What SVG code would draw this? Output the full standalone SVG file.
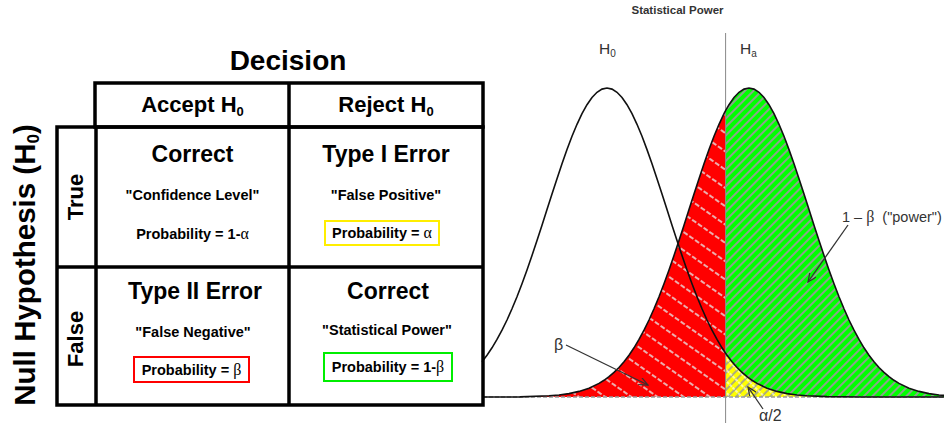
<svg xmlns="http://www.w3.org/2000/svg" width="944" height="423" viewBox="0 0 944 423">
<style>
.b{font-family:"Liberation Sans",Arial,sans-serif;font-weight:bold;fill:#000}
.t1{font-size:28px}
.hd{font-size:22px}
.big{font-size:23px}
.sm{font-size:14.5px}
.g{font-family:"Liberation Serif","Times New Roman",serif;font-weight:normal}
.ln{fill:none;stroke:#000;stroke-width:3.5}
.pl{font-family:"Liberation Sans",Arial,sans-serif;fill:#333}
.cur{fill:none;stroke:#111;stroke-width:1.6}
.arr{fill:none;stroke:#333;stroke-width:1.3}
</style>
<defs>
<pattern id="redh" width="15" height="14" patternUnits="userSpaceOnUse" patternTransform="rotate(-55)">
<rect width="15" height="14" fill="#ff0000"/>
<line x1="7" y1="0" x2="7" y2="14" stroke="#e6e6e6" stroke-width="1.5" stroke-dasharray="5 2"/>
</pattern>
<pattern id="grh" width="6" height="6" patternUnits="userSpaceOnUse" patternTransform="rotate(45)">
<rect width="6" height="6" fill="#00ff00"/>
<line x1="3" y1="0" x2="3" y2="6" stroke="#9a9a9a" stroke-width="1.8"/>
</pattern>
<pattern id="yeh" width="6" height="6" patternUnits="userSpaceOnUse" patternTransform="rotate(45)">
<rect width="6" height="6" fill="#ffff00"/>
<line x1="3" y1="0" x2="3" y2="6" stroke="#9a9a9a" stroke-width="1.6"/>
</pattern>
<pattern id="yew" width="8" height="8" patternUnits="userSpaceOnUse" patternTransform="rotate(-45)">
<line x1="4" y1="0" x2="4" y2="8" stroke="#ffffff" stroke-width="1.2" stroke-dasharray="3 1"/>
</pattern>
<marker id="ah" markerWidth="10" markerHeight="8" refX="9" refY="4" orient="auto" markerUnits="userSpaceOnUse">
<path d="M0,0 L9,4 L0,8" fill="none" stroke="#333" stroke-width="1.2"/>
</marker>
</defs>
<rect width="944" height="423" fill="#fff"/>

<g id="plot">
<path fill="url(#redh)" d="M520,397 L520,396.9 L549,395.8 L559,395 L569,393.6 L579,391.4 L589,388.2 L599,383.4 L604,380.3 L609,376.7 L614,372.4 L619,367.5 L624,361.7 L629,355.2 L634,347.8 L639,339.4 L644,330.2 L649,320 L654,308.8 L659,296.7 L664,283.7 L669,270 L674,255.5 L679,240.5 L684,225.2 L689,209.6 L694,194 L699,178.7 L704,163.8 L709,149.6 L714,136.3 L719,124.3 L724,113.7 L725.6,110.6 L725.6,397 Z"/>
<path fill="url(#grh)" d="M725.6,397 L725.6,110.6 L729,104.7 L734,97.5 L739,92.3 L744,89.1 L749,88 L754,89.1 L759,92.3 L764,97.5 L769,104.7 L774,113.7 L779,124.3 L784,136.3 L789,149.6 L794,163.8 L799,178.7 L804,194 L809,209.6 L814,225.2 L819,240.5 L824,255.5 L829,270 L834,283.7 L839,296.7 L844,308.8 L849,320 L854,330.2 L859,339.4 L864,347.8 L869,355.2 L874,361.7 L879,367.5 L884,372.4 L889,376.7 L894,380.3 L899,383.4 L909,388.2 L919,391.4 L929,393.6 L939,395 L944,395.4 L944,397 Z"/>
<path fill="url(#yeh)" d="M725.6,397 L725.6,353.2 L727,355.2 L732,361.7 L737,367.5 L742,372.4 L747,376.7 L752,380.3 L757,383.4 L767,388.2 L777,391.4 L787,393.6 L797,395 L807,395.8 L827,396.6 L860,397 Z"/>
<path fill="url(#yew)" d="M725.6,397 L725.6,353.2 L727,355.2 L732,361.7 L737,367.5 L742,372.4 L747,376.7 L752,380.3 L757,383.4 L767,388.2 L777,391.4 L787,393.6 L797,395 L807,395.8 L827,396.6 L860,397 Z"/>
<line x1="483" y1="397" x2="944" y2="397" stroke="#999" stroke-width="1.5" stroke-dasharray="4 2"/>
<line x1="725.6" y1="33" x2="725.6" y2="423" stroke="#888" stroke-width="1"/>
<path class="cur" d="M482,361.7 L487,355.2 L492,347.8 L497,339.4 L502,330.2 L507,320 L512,308.8 L517,296.7 L522,283.7 L527,270 L532,255.5 L537,240.5 L542,225.2 L547,209.6 L552,194 L557,178.7 L562,163.8 L567,149.6 L572,136.3 L577,124.3 L582,113.7 L587,104.7 L592,97.5 L597,92.3 L602,89.1 L607,88 L612,89.1 L617,92.3 L622,97.5 L627,104.7 L632,113.7 L637,124.3 L642,136.3 L647,149.6 L652,163.8 L657,178.7 L662,194 L667,209.6 L672,225.2 L677,240.5 L682,255.5 L687,270 L692,283.7 L697,296.7 L702,308.8 L707,320 L712,330.2 L717,339.4 L722,347.8 L725.6,353.2 L727,355.2 L732,361.7 L737,367.5 L742,372.4 L747,376.7 L752,380.3 L757,383.4 L767,388.2 L777,391.4 L787,393.6 L797,395 L807,395.8 L827,396.6 L860,397 L944,397"/>
<path class="cur" d="M483,397 L520,396.9 L549,395.8 L559,395 L569,393.6 L579,391.4 L589,388.2 L599,383.4 L604,380.3 L609,376.7 L614,372.4 L619,367.5 L624,361.7 L629,355.2 L634,347.8 L639,339.4 L644,330.2 L649,320 L654,308.8 L659,296.7 L664,283.7 L669,270 L674,255.5 L679,240.5 L684,225.2 L689,209.6 L694,194 L699,178.7 L704,163.8 L709,149.6 L714,136.3 L719,124.3 L724,113.7 L725.6,110.6 L729,104.7 L734,97.5 L739,92.3 L744,89.1 L749,88 L754,89.1 L759,92.3 L764,97.5 L769,104.7 L774,113.7 L779,124.3 L784,136.3 L789,149.6 L794,163.8 L799,178.7 L804,194 L809,209.6 L814,225.2 L819,240.5 L824,255.5 L829,270 L834,283.7 L839,296.7 L844,308.8 L849,320 L854,330.2 L859,339.4 L864,347.8 L869,355.2 L874,361.7 L879,367.5 L884,372.4 L889,376.7 L894,380.3 L899,383.4 L909,388.2 L919,391.4 L929,393.6 L939,395 L944,395.4"/>
<text class="pl" x="677.5" y="14" text-anchor="middle" font-size="11.5" font-weight="bold">Statistical Power</text>
<text class="pl" x="599" y="54" font-size="15.5">H<tspan font-size="10" dy="3">0</tspan></text>
<text class="pl" x="740" y="54" font-size="15.5">H<tspan font-size="10" dy="3">a</tspan></text>
<text class="pl" x="842" y="222" font-size="14.5">1 – <tspan class="g" font-size="16">β</tspan><tspan dx="8">("power")</tspan></text>
<text class="pl g" x="554" y="350" font-size="16">β</text>
<text class="pl g" x="759" y="421" font-size="16">α/2</text>
</g>

<g id="connectors">
<line class="arr" x1="566" y1="345" x2="648" y2="385" marker-end="url(#ah)"/>
<line class="arr" x1="848" y1="225" x2="808" y2="282" marker-end="url(#ah)"/>
<line class="arr" x1="763" y1="409" x2="748" y2="387" marker-end="url(#ah)"/>
</g>

<g id="table-frame">
<rect x="95" y="83" width="388" height="44" fill="#fff" class="ln"/>
<line class="ln" x1="289" y1="83" x2="289" y2="405"/>
<rect x="57" y="127" width="426" height="278" fill="none" class="ln"/>
<line class="ln" x1="96" y1="127" x2="96" y2="405"/>
<line class="ln" x1="57" y1="267" x2="483" y2="267"/>
</g>

<g id="title-decision">
<text class="b t1" x="288" y="70" text-anchor="middle">Decision</text>
</g>
<g id="title-null">
<text class="b" font-size="29.5" transform="translate(35,265) rotate(-90)" text-anchor="middle">Null Hypothesis (H<tspan font-size="17" dy="4">0</tspan><tspan dy="-4">)</tspan></text>
</g>
<g id="hdr-accept">
<text class="b hd" x="192.5" y="112" text-anchor="middle">Accept H<tspan font-size="13" dy="4">0</tspan></text>
</g>
<g id="hdr-reject">
<text class="b hd" x="386" y="112" text-anchor="middle">Reject H<tspan font-size="13" dy="4">0</tspan></text>
</g>
<g id="row-true">
<text class="b hd" transform="translate(83,197) rotate(-90)" text-anchor="middle">True</text>
</g>
<g id="row-false">
<text class="b hd" transform="translate(83,339) rotate(-90)" text-anchor="middle">False</text>
</g>

<g id="cell-true-accept">
<text class="b big" x="192.5" y="162" text-anchor="middle">Correct</text>
<text class="b sm" x="192.5" y="200" text-anchor="middle">"Confidence Level"</text>
<text class="b sm" x="192.5" y="239" text-anchor="middle">Probability = 1-<tspan class="g" font-size="16">α</tspan></text>
</g>
<g id="cell-true-reject">
<text class="b big" x="386" y="162" text-anchor="middle">Type I Error</text>
<text class="b sm" x="386" y="200" text-anchor="middle">"False Positive"</text>
<rect x="325" y="221" width="114" height="24" fill="none" stroke="#ffee00" stroke-width="2"/>
<text class="b sm" x="382" y="238" text-anchor="middle">Probability = <tspan class="g" font-size="16">α</tspan></text>
</g>
<g id="cell-false-accept">
<text class="b big" x="195" y="299" text-anchor="middle">Type II Error</text>
<text class="b sm" x="193" y="337" text-anchor="middle">"False Negative"</text>
<rect x="134" y="357" width="115" height="25" fill="none" stroke="#ff0000" stroke-width="2"/>
<text class="b sm" x="191.5" y="375" text-anchor="middle">Probability = <tspan class="g" font-size="16">β</tspan></text>
</g>
<g id="cell-false-reject">
<text class="b big" x="388" y="299" text-anchor="middle">Correct</text>
<text class="b sm" x="387" y="335" text-anchor="middle">"Statistical Power"</text>
<rect x="324" y="353" width="128" height="28" fill="none" stroke="#00ee00" stroke-width="2"/>
<text class="b sm" x="388" y="372" text-anchor="middle">Probability = 1-<tspan class="g" font-size="16">β</tspan></text>
</g>
</svg>
